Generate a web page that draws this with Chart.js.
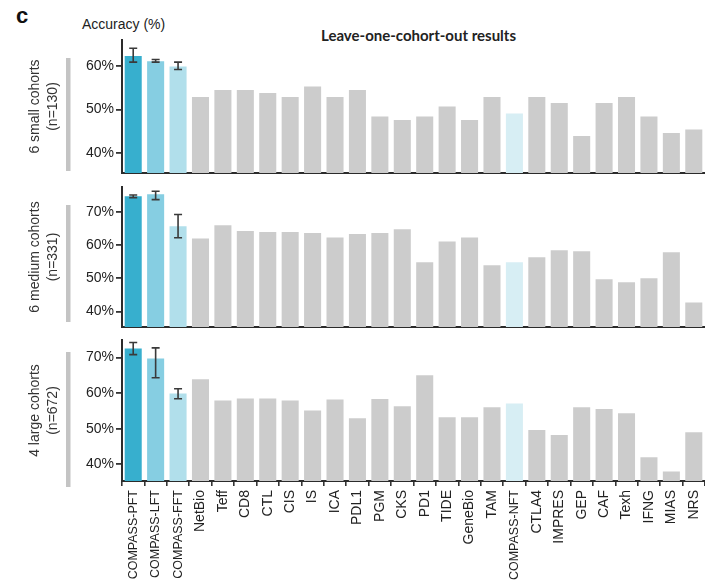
<!DOCTYPE html>
<html>
<head>
<meta charset="utf-8">
<script src="https://cdn.jsdelivr.net/npm/chart.js@4.4.1/dist/chart.umd.min.js"></script>
<style>
    html, body { margin: 0; padding: 0; background: #fff; }
    body { width: 705px; height: 584px; position: relative; overflow: hidden; font-family: "Liberation Sans", Arial, sans-serif; }
    .panel { position: absolute; left: 0; width: 705px; }
    #letra { position: absolute; left: 16px; top: 3px; font: bold 22px "Liberation Sans", Arial, sans-serif; color: #111; }
    #ejeY { position: absolute; left: 82px; top: 16px; font-size: 14px; color: #222; }
    #titulo { position: absolute; left: 321px; top: 26px; font: bold 15px Lato, "Open Sans", sans-serif; color: #222; white-space: nowrap; }
</style>
</head>
<body>
<div id="letra">c</div>
<div id="ejeY">Accuracy (%)</div>
<div id="titulo">Leave-one-cohort-out results</div>
<div class="panel" style="top:0;height:180px"><canvas id="panelPequenas"></canvas></div>
<div class="panel" style="top:175px;height:160px"><canvas id="panelMedianas"></canvas></div>
<div class="panel" style="top:335px;height:249px"><canvas id="panelGrandes"></canvas></div>
<script>
// Categorias (modelos) en el eje x
const categorias = ['COMPASS-PFT', 'COMPASS-LFT', 'COMPASS-FFT', 'NetBio', 'Teff', 'CD8', 'CTL', 'CIS', 'IS', 'ICA',
    'PDL1', 'PGM', 'CKS', 'PD1', 'TIDE', 'GeneBio', 'TAM', 'COMPASS-NFT', 'CTLA4', 'IMPRES', 'GEP', 'CAF',
    'Texh', 'IFNG', 'MIAS', 'NRS'];

// 6 small cohorts (n=130)
const precisionPequenas = [62.3, 61.1, 59.9, 52.9, 54.5, 54.5, 53.8, 52.9, 55.3, 52.9, 54.5, 48.4, 47.6, 48.4,
    50.7, 47.6, 52.9, 49.1, 52.9, 51.5, 43.9, 51.5, 52.9, 48.4, 44.6, 45.4];
const errorPequenas = [[60.9, 64.1], [60.9, 61.5], [59.2, 60.9]];

// 6 medium cohorts (n=331)
const precisionMedianas = [74.7, 75.3, 65.7, 62.0, 66.0, 64.2, 63.9, 63.9, 63.6, 62.3, 63.3, 63.6, 64.8, 54.8,
    61.1, 62.3, 53.9, 54.8, 56.3, 58.4, 58.1, 49.7, 48.8, 50.0, 57.8, 42.7];
const errorMedianas = [[74.3, 75.1], [73.7, 76.2], [62.2, 69.2]];

// 4 large cohorts (n=672)
const precisionGrandes = [72.5, 69.7, 59.9, 63.9, 57.9, 58.5, 58.5, 57.9, 55.1, 58.2, 52.9, 58.3, 56.3, 65.0,
    53.2, 53.2, 56.0, 57.1, 49.6, 48.2, 56.0, 55.5, 54.3, 42.0, 38.0, 49.0];
const errorGrandes = [[70.8, 74.2], [64.3, 72.7], [58.4, 61.2]];

// Rangos y marcas del eje y
const rangoPequenas = [35.4, 66];
const rangoMedianas = [35.3, 77.5];
const rangoGrandes = [35.3, 74.9];
const marcasPequenas = [40, 50, 60];
const marcasMedianas = [40, 50, 60, 70];
const marcasGrandes = [40, 50, 60, 70];

Chart.defaults.font.family = '"Liberation Sans", Arial, sans-serif';
Chart.defaults.font.size = 14;

// Colores de las barras
function colorBarra(nombre) {
    if (nombre === 'COMPASS-PFT') return '#37afce';
    if (nombre === 'COMPASS-LFT') return '#86cee2';
    if (nombre === 'COMPASS-FFT') return '#b1dfeb';
    if (nombre === 'COMPASS-NFT') return '#d7eef4';
    return '#cccccc';
}

// Barras de error
const barrasError = {
    id: 'barrasError',
    afterDatasetsDraw(chart, args, opts) {
        const { ctx, scales: { x, y } } = chart;
        ctx.save();
        ctx.strokeStyle = '#3a3a3a';
        ctx.lineWidth = 1.6;
        opts.rangos.forEach(([bajo, alto], i) => {
            const cx = x.getPixelForValue(i);
            const y1 = y.getPixelForValue(bajo);
            const y2 = y.getPixelForValue(alto);
            ctx.beginPath();
            ctx.moveTo(cx, y1); ctx.lineTo(cx, y2);
            ctx.moveTo(cx - 4, y1); ctx.lineTo(cx + 4, y1);
            ctx.moveTo(cx - 4, y2); ctx.lineTo(cx + 4, y2);
            ctx.stroke();
        });
        ctx.restore();
    }
};

// Franja gris junto a la etiqueta de cada panel
const franjaGris = {
    id: 'franjaGris',
    beforeDraw(chart, args, opts) {
        const { ctx, chartArea } = chart;
        ctx.save();
        ctx.fillStyle = '#c4c4c4';
        const arriba = chartArea.top + opts.arriba;
        ctx.fillRect(66, arriba, 4.5, chartArea.bottom + opts.abajo - arriba);
        ctx.restore();
    }
};

function crearPanel(id, valores, errores, rango, marcas, titulo, conEtiquetas, padding, franja) {
    const ctx = document.getElementById(id).getContext('2d');
    const ejeX = conEtiquetas ? {
        afterFit: s => { s.height = 100; s.paddingLeft = 0; s.paddingRight = 0; },
        ticks: {
            autoSkip: false, maxRotation: 90, minRotation: 90, padding: 4, color: '#222',
            // las etiquetas COMPASS van algo mas pequenas (en el original son versalitas)
            font: c => categorias[c.index] && categorias[c.index].startsWith('COMPASS')
                ? { size: 12.5 } : { size: 14 }
        },
        grid: { display: true, drawOnChartArea: false, drawTicks: true, tickLength: 5, color: '#333', lineWidth: 1.6 },
        border: { display: true, color: '#2b2b2b', width: 2 }
    } : {
        afterFit: s => { s.height = 0; s.paddingLeft = 0; s.paddingRight = 0; },
        ticks: { display: false },
        grid: { display: false },
        border: { display: true, color: '#2b2b2b', width: 2 }
    };

    return new Chart(ctx, {
        type: 'bar',
        data: {
            labels: categorias,
            datasets: [{
                data: valores,
                backgroundColor: categorias.map(colorBarra),
                borderWidth: 0,
                barPercentage: 0.76,
                categoryPercentage: 1.0
            }]
        },
        options: {
            responsive: true,
            maintainAspectRatio: false,
            animation: false,
            layout: { padding: padding },
            scales: {
                x: ejeX,
                y: {
                    min: rango[0],
                    max: rango[1],
                    afterBuildTicks: s => { s.ticks = marcas.map(v => ({ value: v })); },
                    afterFit: s => { s.width = 122; s.paddingTop = 0; s.paddingBottom = 0; },
                    ticks: { callback: v => v + '%', color: '#222', padding: 2 },
                    grid: { drawOnChartArea: false, drawTicks: true, tickLength: 6, color: '#333', lineWidth: 1.8 },
                    border: { display: true, color: '#2b2b2b', width: 2 },
                    title: {
                        display: true, text: titulo, color: '#333',
                        font: { size: 14, lineHeight: 1.3 },
                        padding: { top: 26, bottom: 0 }
                    }
                }
            },
            plugins: {
                legend: { display: false },
                tooltip: { enabled: false },
                barrasError: { rangos: errores },
                franjaGris: franja
            }
        },
        plugins: [barrasError, franjaGris]
    });
}

crearPanel('panelPequenas', precisionPequenas, errorPequenas, rangoPequenas, marcasPequenas,
    ['6 small cohorts', '(n=130)'], false, { top: 40, bottom: 7, left: 0, right: 0 }, { arriba: 18, abajo: -2 });
crearPanel('panelMedianas', precisionMedianas, errorMedianas, rangoMedianas, marcasMedianas,
    ['6 medium cohorts', '(n=331)'], false, { top: 12, bottom: 8, left: 0, right: 0 }, { arriba: 18, abajo: -5 });
crearPanel('panelGrandes', precisionGrandes, errorGrandes, rangoGrandes, marcasGrandes,
    ['4 large cohorts', '(n=672)'], true, { top: 5, bottom: 3, left: 0, right: 0 }, { arriba: 12, abajo: 6 });
</script>
</body>
</html>
